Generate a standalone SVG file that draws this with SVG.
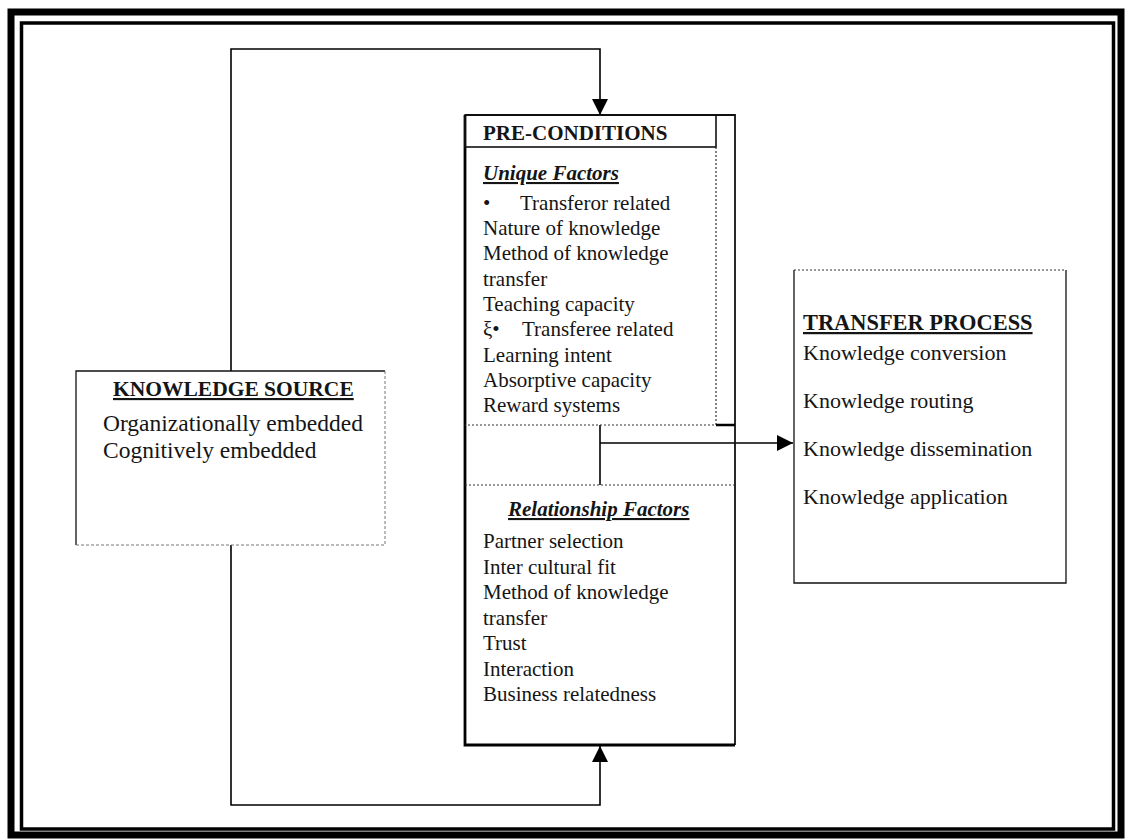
<svg xmlns="http://www.w3.org/2000/svg" width="1126" height="840" viewBox="0 0 1126 840">
<defs>
<marker id="ah" viewBox="0 0 10 10" refX="10" refY="5" markerWidth="16" markerHeight="16" markerUnits="userSpaceOnUse" orient="auto">
<path d="M0,0 L10,5 L0,10 z" fill="#000"/>
</marker>
<style>
text{font-family:"Liberation Serif","Times New Roman",serif;fill:#151515}
.b{font-weight:bold}
.bi{font-weight:bold;font-style:italic;text-decoration:underline}
.u{text-decoration:underline}
.edge{fill:none;stroke:#111;stroke-width:1.3}
.faint{fill:none;stroke:#777;stroke-width:1;stroke-dasharray:3 2}
.dot{fill:none;stroke:#333;stroke-width:1.2;stroke-dasharray:2 2}
.con{fill:none;stroke:#000;stroke-width:1.6}
.t21{font-size:21px}
.t22{font-size:22px}
.t23{font-size:23.5px}
</style>
</defs>
<rect width="1126" height="840" fill="#fff"/>
<g id="frame">
<rect x="11" y="12" width="1110" height="823" fill="none" stroke="#000" stroke-width="7"/>
<rect x="21.5" y="23" width="1092" height="806" fill="none" stroke="#000" stroke-width="3.5"/>
</g>
<g id="connectors">
<path class="con" d="M231,371 V49 H600 V115" marker-end="url(#ah)"/>
<path class="con" d="M231,545 V805 H600 V746" marker-end="url(#ah)"/>
<path class="con" d="M600,425 V485"/>
<path class="con" d="M600,443 H793" marker-end="url(#ah)"/>
</g>
<g id="knowledge-source">
<rect x="76" y="371" width="309" height="174" fill="#fff"/>
<path class="edge" d="M76,545 V371 H385"/>
<path class="faint" d="M385,371 V545 H76"/>
<text class="b u" x="113" y="396" style="font-size:21.5px">KNOWLEDGE SOURCE</text>
<text class="t23" x="103" y="431">Organizationally embedded</text>
<text class="t23" x="103" y="458">Cognitively embedded</text>
</g>
<g id="pre-conditions">
<path d="M465,115 H735 V745" fill="none" stroke="#111" stroke-width="1.8"/>
<path d="M465,115 V745 H735" fill="none" stroke="#000" stroke-width="2.8"/>
<rect x="465" y="115" width="251" height="32" fill="none" stroke="#111" stroke-width="1.6"/>
<text class="b t21" x="483" y="140">PRE-CONDITIONS</text>
<path class="dot" d="M716,147 V425 H465"/>
<path d="M716,425 H735" stroke="#000" stroke-width="2.5"/>
<path class="dot" d="M465,485 H735" stroke="#888"/>
<text class="bi t21" x="483" y="180">Unique Factors</text>
<text class="t21" x="483" y="210">•</text>
<text class="t21" x="520" y="210">Transferor related</text>
<text class="t21" x="483" y="235">Nature of knowledge</text>
<text class="t21" x="483" y="260">Method of knowledge</text>
<text class="t21" x="483" y="286">transfer</text>
<text class="t21" x="483" y="311">Teaching capacity</text>
<text class="t21" x="483" y="336">ξ•</text>
<text class="t21" x="522" y="336">Transferee related</text>
<text class="t21" x="483" y="362">Learning intent</text>
<text class="t21" x="483" y="387">Absorptive capacity</text>
<text class="t21" x="483" y="412">Reward systems</text>
<text class="bi t21" x="508" y="516">Relationship Factors</text>
<text class="t21" x="483" y="548">Partner selection</text>
<text class="t21" x="483" y="573.5">Inter cultural fit</text>
<text class="t21" x="483" y="599">Method of knowledge</text>
<text class="t21" x="483" y="624.5">transfer</text>
<text class="t21" x="483" y="650">Trust</text>
<text class="t21" x="483" y="675.5">Interaction</text>
<text class="t21" x="483" y="701">Business relatedness</text>
</g>
<g id="transfer-process">
<rect x="794" y="270" width="272" height="313" fill="#fff"/>
<path class="edge" d="M794,270 V583 H1066 V270"/>
<path class="dot" d="M794,270 H1066" stroke="#bbb"/>
<text class="b u" x="803" y="330" style="font-size:22.4px">TRANSFER PROCESS</text>
<text class="t22" x="803" y="360">Knowledge conversion</text>
<text class="t22" x="803" y="408">Knowledge routing</text>
<text class="t22" x="803" y="456">Knowledge dissemination</text>
<text class="t22" x="803" y="504">Knowledge application</text>
</g>
</svg>
